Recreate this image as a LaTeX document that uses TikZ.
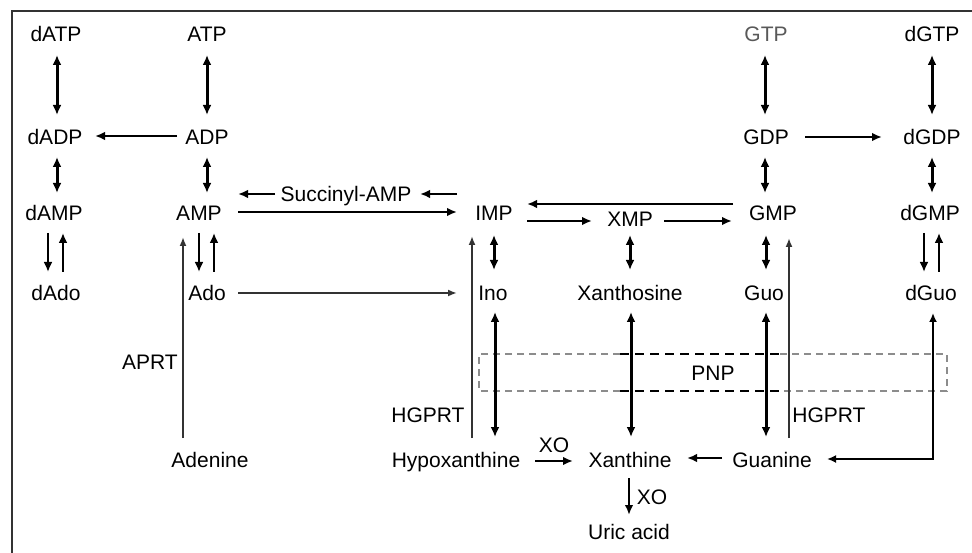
\documentclass[tikz,border=0pt]{standalone}
\usepackage{fontspec}
\setmainfont{Liberation Sans}
\usetikzlibrary{arrows.meta}
\tikzset{
  lbl/.style={inner sep=0pt, text height=15pt, text depth=0pt, font=\fontsize{21}{25}\selectfont},
  bi/.style={{Latex[length=10pt,width=9pt]}-{Latex[length=10pt,width=9pt]}, line width=3pt},
  one/.style={-{Latex[length=10pt,width=9pt]}, line width=2.8pt},
  hor/.style={-{Latex[length=10pt,width=8.5pt]}, line width=2.6pt},
  thin/.style={-{Latex[length=9pt,width=7pt]}, line width=1.8pt, draw=black!80},
  pnpgray/.style={draw=black!45, line width=1.8pt, dash pattern=on 7pt off 5pt},
  pnpdark/.style={draw=black, line width=1.8pt, dash pattern=on 9pt off 6pt}
}
\begin{document}
\begin{tikzpicture}[x=1pt,y=-1pt]
\useasboundingbox (0,0) rectangle (972,553);
\fill[white] (0,0) rectangle (972,553);
\draw[line width=1.8pt, black!80] (12,553) -- (12,11) -- (972,11);

% nodes
\node[lbl] (dATP) at (56,34) {dATP};
\node[lbl] (ATP) at (207,34) {ATP};
\node[lbl, text=black!65] (GTP) at (766,34) {GTP};
\node[lbl] (dGTP) at (932,34) {dGTP};
\node[lbl] (dADP) at (55,137) {dADP};
\node[lbl] (ADP) at (207,137) {ADP};
\node[lbl] (GDP) at (766,137) {GDP};
\node[lbl] (dGDP) at (932,137) {dGDP};
\node[lbl] (dAMP) at (54,213) {dAMP};
\node[lbl] (AMP) at (199,213) {AMP};
\node[lbl] (IMP) at (494,213) {IMP};
\node[lbl] (XMP) at (630,219) {XMP};
\node[lbl] (GMP) at (773,213) {GMP};
\node[lbl] (dGMP) at (930,213) {dGMP};
\node[lbl] (Succ) at (346,194) {Succinyl-AMP};
\node[lbl] (dAdo) at (56,293) {dAdo};
\node[lbl] (Ado) at (207,293) {Ado};
\node[lbl] (Ino) at (493,293) {Ino};
\node[lbl] (Xao) at (630,293) {Xanthosine};
\node[lbl] (Guo) at (764,293) {Guo};
\node[lbl] (dGuo) at (931,293) {dGuo};
\node[lbl] (APRT) at (150,362) {APRT};
\node[lbl] (HG1) at (428,415) {HGPRT};
\node[lbl] (HG2) at (829,415) {HGPRT};
\node[lbl] (PNP) at (713,373) {PNP};
\node[lbl] (Ade) at (210,460) {Adenine};
\node[lbl] (Hyp) at (456,460) {Hypoxanthine};
\node[lbl] (Xan) at (630,460) {Xanthine};
\node[lbl] (Gua) at (772,460) {Guanine};
\node[lbl] (Uric) at (629,532) {Uric acid};
\node[lbl] (XO1) at (554,445) {XO};
\node[lbl] (XO2) at (652,497) {XO};

% PNP box
\draw[pnpgray] (620,354) -- (479,354) -- (479,391) -- (620,391);
\draw[pnpgray] (780,354) -- (947,354) -- (947,391) -- (780,391);
\draw[pnpdark] (620,354) -- (780,354);
\draw[pnpdark] (620,391) -- (780,391);

% top part
\draw[bi] ([xshift=1pt,yshift=-21pt]dATP.center) -- ([xshift=2pt,yshift=22pt]dADP.center);
\draw[bi] ([yshift=-21pt]ATP.center) -- ([yshift=22pt]ADP.center);
\draw[bi] ([xshift=2pt,yshift=-20pt]dADP.center) -- ([xshift=3pt,yshift=20pt]dAMP.center);
\draw[bi] ([yshift=-20pt]ADP.center) -- ([xshift=8pt,yshift=20pt]AMP.center);
\draw[hor] ([xshift=-30pt,yshift=1pt]ADP.center) -- ([xshift=40pt,yshift=1pt]dADP.center);
\draw[bi] ([xshift=-1pt,yshift=-21pt]GTP.center) -- ([xshift=-1pt,yshift=22pt]GDP.center);
\draw[bi] ([yshift=-21pt]dGTP.center) -- ([yshift=22pt]dGDP.center);
\draw[hor] ([xshift=39pt]GDP.center) -- ([xshift=-50pt]dGDP.center);
\draw[bi] ([xshift=-1pt,yshift=-20pt]GDP.center) -- ([xshift=-8pt,yshift=20pt]GMP.center);
\draw[bi] ([yshift=-20pt]dGDP.center) -- ([xshift=2pt,yshift=20pt]dGMP.center);

% pairs of one-way arrows
\draw[one] ([xshift=-6pt,yshift=-20pt]dAMP.center) -- ([xshift=-8pt,yshift=21pt]dAdo.center);
\draw[one] ([xshift=7pt,yshift=21pt]dAdo.center) -- ([xshift=9pt,yshift=-20pt]dAMP.center);
\draw[one] ([yshift=-20pt]AMP.center) -- ([xshift=-8pt,yshift=21pt]Ado.center);
\draw[one] ([xshift=7pt,yshift=21pt]Ado.center) -- ([xshift=15pt,yshift=-20pt]AMP.center);
\draw[one] ([xshift=-6pt,yshift=-20pt]dGMP.center) -- ([xshift=-7pt,yshift=21pt]dGuo.center);
\draw[one] ([xshift=8pt,yshift=21pt]dGuo.center) -- ([xshift=9pt,yshift=-20pt]dGMP.center);

% middle verticals
\draw[bi] ([yshift=-22pt]IMP.center) -- ([xshift=1pt,yshift=23pt]Ino.center);
\draw[bi] ([yshift=-16pt]XMP.center) -- ([yshift=23pt]Xao.center);
\draw[bi] ([xshift=-7pt,yshift=-22pt]GMP.center) -- ([xshift=2pt,yshift=23pt]Guo.center);
\draw[bi] ([xshift=2pt,yshift=-19pt]Ino.center) -- ([xshift=39pt,yshift=23pt]Hyp.center);
\draw[bi] ([xshift=1pt,yshift=-19pt]Xao.center) -- ([xshift=1pt,yshift=23pt]Xan.center);
\draw[bi] ([xshift=2pt,yshift=-19pt]Guo.center) -- ([xshift=-6pt,yshift=23pt]Gua.center);

% salvage lines
\draw[thin] ([xshift=-27pt,yshift=22pt]Ade.center) -- ([xshift=-16pt,yshift=-24pt]AMP.center);
\draw[thin] ([xshift=16pt,yshift=22pt]Hyp.center) -- ([xshift=-22pt,yshift=-23pt]IMP.center);
\draw[thin] ([xshift=17pt,yshift=22pt]Gua.center) -- ([xshift=16pt,yshift=-25pt]GMP.center);

% horizontals
\draw[thin] ([xshift=31pt]Ado.center) -- ([xshift=-36pt]Ino.center);
\draw[hor] ([xshift=39pt,yshift=1pt]AMP.center) -- ([xshift=-37pt,yshift=1pt]IMP.center);
\draw[hor] ([xshift=-37pt,yshift=19pt]IMP.center) -- ([xshift=74pt]Succ.center);
\draw[hor] ([xshift=-71pt]Succ.center) -- ([xshift=39pt,yshift=19pt]AMP.center);
\draw[hor] ([xshift=33pt,yshift=-8pt]IMP.center) -- ([xshift=-38pt,yshift=-2pt]XMP.center);
\draw[hor] ([xshift=34pt,yshift=-2pt]XMP.center) -- ([xshift=-41pt,yshift=-8pt]GMP.center);
\draw[hor] ([xshift=-40pt,yshift=9pt]GMP.center) -- ([xshift=33pt,yshift=9pt]IMP.center);

% bottom
\draw[hor] ([xshift=79pt,yshift=-1pt]Hyp.center) -- ([xshift=-57pt,yshift=-1pt]Xan.center);
\draw[hor] ([xshift=-50pt,yshift=2pt]Gua.center) -- ([xshift=57pt,yshift=2pt]Xan.center);
\draw[hor] ([xshift=-1pt,yshift=-18pt]Xan.center) -- ([yshift=17pt]Uric.center);
\draw[{Latex[length=9pt,width=8pt]}-{Latex[length=9pt,width=8pt]}, line width=2.2pt] ([xshift=2pt,yshift=-20pt]dGuo.center) |- ([xshift=55pt,yshift=1pt]Gua.center);
\end{tikzpicture}
\end{document}
